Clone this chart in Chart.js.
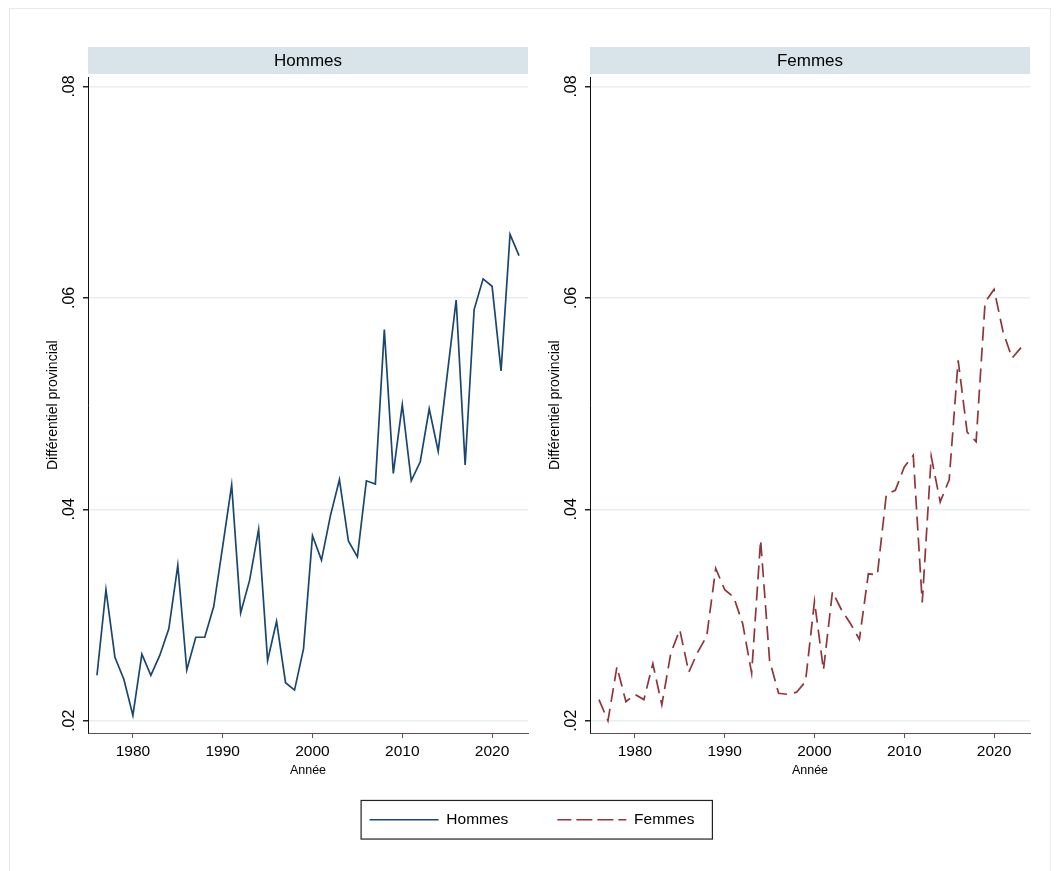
<!DOCTYPE html>
<html>
<head>
<meta charset="utf-8">
<title>Différentiel provincial</title>
<script src="https://cdn.jsdelivr.net/npm/chart.js@4.4.1/dist/chart.umd.min.js"></script>
<style>
    html, body { margin: 0; padding: 0; background: #fff; }
    body { width: 1057px; height: 871px; position: relative; overflow: hidden; }
    #frame { position: absolute; left: 9px; top: 8px; width: 1040px; height: 900px; border: 1px solid #e4ebee; }
    canvas { position: absolute; }
</style>
</head>
<body>
<div id="frame"></div>
<canvas id="menChart" width="540" height="780" style="left:0;top:10px"></canvas>
<canvas id="womenChart" width="540" height="780" style="left:502px;top:10px"></canvas>
<canvas id="legendChart" width="480" height="260" style="left:292px;top:763px"></canvas>
<script>
const years = [1976, 1977, 1978, 1979, 1980, 1981, 1982, 1983, 1984, 1985,
    1986, 1987, 1988, 1989, 1990, 1991, 1992, 1993, 1994, 1995,
    1996, 1997, 1998, 1999, 2000, 2001, 2002, 2003, 2004, 2005,
    2006, 2007, 2008, 2009, 2010, 2011, 2012, 2013, 2014, 2015,
    2016, 2017, 2018, 2019, 2020, 2021, 2022, 2023];

const menValues = [0.0243, 0.0324, 0.0260, 0.0239, 0.0205, 0.0263, 0.0243, 0.0262, 0.0287, 0.0347,
    0.0248, 0.0279, 0.0279, 0.0308, 0.0365, 0.0423, 0.0302, 0.0333, 0.0381, 0.0257,
    0.0294, 0.0236, 0.0229, 0.0268, 0.0375, 0.0352, 0.0394, 0.0428, 0.0370, 0.0355,
    0.0427, 0.0424, 0.0570, 0.0434, 0.0499, 0.0427, 0.0445, 0.0495, 0.0455, 0.0527,
    0.0598, 0.0442, 0.0589, 0.0618, 0.0611, 0.0531, 0.0660, 0.0640];

const womenValues = [0.0220, 0.0200, 0.0251, 0.0218, 0.0225, 0.0220, 0.0254, 0.0215, 0.0264, 0.0286,
    0.0246, 0.0265, 0.0280, 0.0344, 0.0324, 0.0317, 0.0292, 0.0245, 0.0371, 0.0257,
    0.0226, 0.0225, 0.0227, 0.0237, 0.0313, 0.0248, 0.0322, 0.0305, 0.0292, 0.0277,
    0.0339, 0.0338, 0.0414, 0.0418, 0.0440, 0.0451, 0.0312, 0.0450, 0.0407, 0.0428,
    0.0541, 0.0473, 0.0464, 0.0596, 0.0608, 0.0568, 0.0543, 0.0553];

const xTicks = [1980, 1990, 2000, 2010, 2020];
const yTicks = [0.02, 0.04, 0.06, 0.08];
const yTickLabels = ['.02', '.04', '.06', '.08'];

const menColor = '#1a476f';
const womenColor = '#90353b';

Chart.defaults.font.family = "'Liberation Sans', Arial, sans-serif";
Chart.defaults.color = '#000';

// grey strip behind the panel title
const stripPlugin = {
    id: 'strip',
    beforeDraw(chart) {
        const ctx = chart.ctx;
        const area = chart.chartArea;
        ctx.save();
        ctx.fillStyle = '#d9e4ea';
        ctx.fillRect(area.left, area.top - 30.4, area.right - area.left, 27);
        ctx.restore();
    }
};

function panelOptions(title) {
    return {
        responsive: false,
        animation: false,
        layout: { padding: { top: 37, right: 12, left: 0, bottom: 0 } },
        plugins: {
            legend: { display: false },
            tooltip: { enabled: false },
            title: {
                display: true,
                text: title,
                fullSize: false,
                color: '#000',
                font: { size: 17, weight: 'normal' },
                padding: { top: 4, bottom: 6 }
            }
        },
        scales: {
            x: {
                type: 'linear',
                min: 1975,
                max: 2024,
                afterBuildTicks: scale => { scale.ticks = xTicks.map(v => ({ value: v })); },
                afterFit: scale => { scale.height = 57; },
                ticks: {
                    maxRotation: 0,
                    padding: 4,
                    color: '#000',
                    font: { size: 15.5 },
                    callback: value => String(value)
                },
                grid: { drawOnChartArea: false, tickColor: '#555', tickLength: 5 },
                border: { color: '#555', width: 1 },
                title: {
                    display: true,
                    text: 'Année',
                    color: '#000',
                    font: { size: 12.5 },
                    padding: { top: 0, bottom: 12 }
                }
            },
            y: {
                type: 'linear',
                min: 0.01884,
                max: 0.08086,
                afterBuildTicks: scale => { scale.ticks = yTicks.map(v => ({ value: v })); },
                afterFit: scale => { scale.width = 88; },
                ticks: {
                    minRotation: 90,
                    maxRotation: 90,
                    crossAlign: 'center',
                    padding: 2,
                    color: '#000',
                    font: { size: 16 },
                    callback: (value, index) => yTickLabels[index]
                },
                grid: { color: '#e8eff1', lineWidth: 1.5, tickColor: '#222', tickLength: 5 },
                border: { color: '#111', width: 1 },
                title: {
                    display: true,
                    text: 'Différentiel provincial',
                    color: '#000',
                    font: { size: 14 },
                    padding: { top: 45, bottom: 0 }
                }
            }
        }
    };
}

function lineDataset(label, values, color, dash) {
    return {
        label: label,
        data: years.map((yr, i) => ({ x: yr, y: values[i] })),
        borderColor: color,
        backgroundColor: color,
        borderWidth: 1.7,
        borderDash: dash,
        pointRadius: 0,
        tension: 0,
        fill: false
    };
}

new Chart(document.getElementById('menChart'), {
    type: 'line',
    data: { datasets: [lineDataset('Hommes', menValues, menColor, [])] },
    options: panelOptions('Hommes'),
    plugins: [stripPlugin]
});

new Chart(document.getElementById('womenChart'), {
    type: 'line',
    data: { datasets: [lineDataset('Femmes', womenValues, womenColor, [14, 7])] },
    options: panelOptions('Femmes'),
    plugins: [stripPlugin]
});

// box around the shared legend
const legendBoxPlugin = {
    id: 'legendBox',
    afterDraw(chart) {
        const boxes = chart.legend.legendHitBoxes;
        if (!boxes || !boxes.length) return;
        const first = boxes[0];
        const last = boxes[boxes.length - 1];
        const left = first.left - 8.5;
        const right = last.left + last.width + 18;
        const cy = first.top + first.height / 2;
        const ctx = chart.ctx;
        ctx.save();
        ctx.strokeStyle = '#222';
        ctx.lineWidth = 1.2;
        ctx.strokeRect(left, cy - 19.3, right - left, 38.6);
        ctx.restore();
    }
};

new Chart(document.getElementById('legendChart'), {
    type: 'line',
    data: {
        datasets: [
            lineDataset('Hommes', [], menColor, []),
            lineDataset('Femmes', [], womenColor, [14, 7])
        ]
    },
    options: {
        responsive: false,
        animation: false,
        scales: { x: { display: false }, y: { display: false } },
        plugins: {
            tooltip: { enabled: false },
            legend: {
                position: 'top',
                align: 'center',
                labels: {
                    boxWidth: 69,
                    boxHeight: 0,
                    padding: 49,
                    color: '#000',
                    font: { size: 15.5 }
                }
            }
        }
    },
    plugins: [legendBoxPlugin]
});
</script>
</body>
</html>
